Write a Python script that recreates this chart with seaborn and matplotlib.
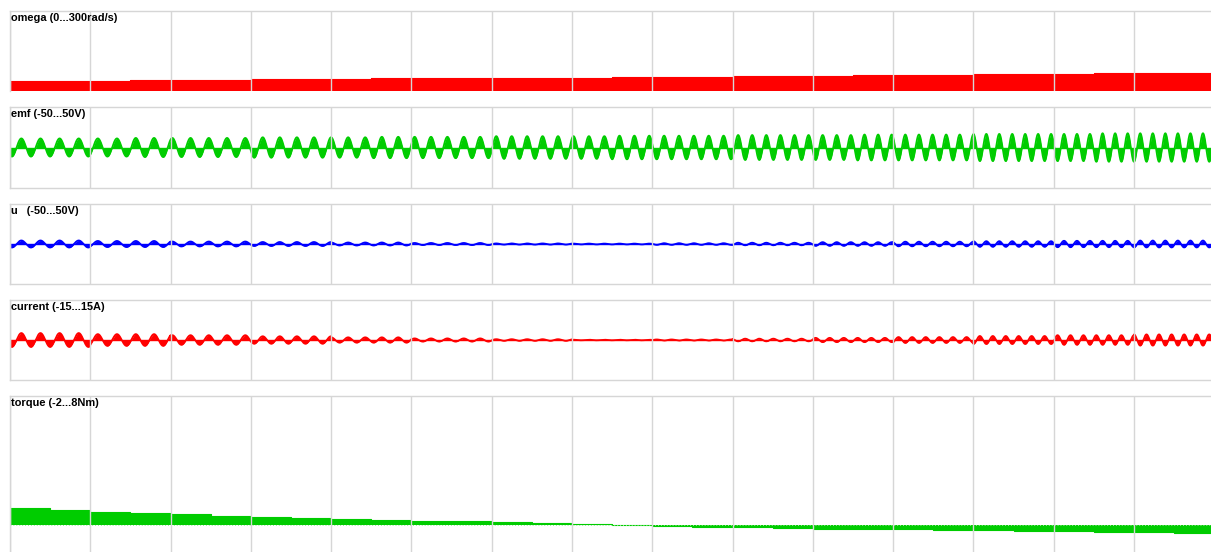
import numpy as np
import pandas as pd
import matplotlib
matplotlib.use("Agg")
import matplotlib.pyplot as plt
import seaborn as sns

# Speed staircase: one level per 1.5-division step (rad/s)
omega_levels = [37, 41, 44, 47, 50, 53, 56, 59, 63, 66]
# Back-emf electrical cycles per division and peak value (V) in each speed step
emf_cycles = [4.2, 4.4, 4.7, 4.9, 5.2, 5.4, 5.7, 5.9, 6.2, 6.4]
emf_peak = [11.2, 11.8, 12.6, 13.2, 14.0, 14.6, 15.4, 16.0, 16.8, 17.6]
# Peak terminal voltage (V) and phase current (A) per division
u_peak = [4.4, 3.8, 3.1, 2.5, 1.9, 1.3, 0.7, 0.5, 1.0, 1.6, 2.3, 2.9, 3.5, 4.0, 4.3]
current_peak = [2.6, 2.2, 1.8, 1.4, 1.0, 0.6, 0.3, 0.1, -0.2, -0.5,
                -0.8, -1.1, -1.5, -1.8, -2.1]
# Shaft torque (Nm) per half division
torque_levels = [1.02, 0.90, 0.80, 0.72, 0.64, 0.56, 0.48, 0.41, 0.36, 0.31,
                 0.26, 0.21, 0.16, 0.12, 0.06, 0.00, -0.05, -0.11, -0.15, -0.19,
                 -0.23, -0.26, -0.29, -0.31, -0.34, -0.37, -0.40, -0.44, -0.47, -0.50]

labels = ["omega (0...300rad/s)", "emf (-50...50V)", "u   (-50...50V)",
          "current (-15...15A)", "torque (-2...8Nm)"]
limits = [(0, 300), (-50, 50), (-50, 50), (-15, 15), (-2, 8)]

n_div = 15
step_len = 1.5

sns.set_theme(style="white")
plt.rcParams["font.family"] = ["Liberation Sans", "DejaVu Sans"]

# time base in divisions
t = np.linspace(0, n_div, n_div * 800 + 1)
dt = t[1] - t[0]
seg = np.minimum((t // step_len).astype(int), len(omega_levels) - 1)
cell = np.minimum(t.astype(int), n_div - 1)
phase = -2.2 + 2 * np.pi * np.cumsum(np.asarray(emf_cycles)[seg] * dt)
carrier = np.sin(phase)

waves = pd.DataFrame({
    "t": t,
    "emf": np.asarray(emf_peak)[seg] * carrier,
    "u": np.asarray(u_peak)[cell] * carrier,
    "current": np.asarray(current_peak)[cell] * carrier,
})

# step series
omega_x = np.append(np.arange(len(omega_levels)) * step_len, n_div)
omega_y = np.append(omega_levels, omega_levels[-1])
torque_x = np.append(np.arange(len(torque_levels)) * 0.5, n_div)
torque_y = np.append(torque_levels, torque_levels[-1])

W, H = 1211, 552
fig = plt.figure(figsize=(W / 100, H / 100), dpi=100)
fig.patch.set_facecolor("white")

left_px = 10
width_px = n_div * 80.29
panels_px = [(11, 91), (107, 188), (204, 284), (300, 380), (396, 557)]
axes = []
for top, bot in panels_px:
    ax = fig.add_axes([left_px / W, (H - bot) / H, width_px / W, (bot - top) / H])
    axes.append(ax)

grid_c = "#d6d6d6"
for ax, lab, lim in zip(axes, labels, limits):
    ax.set_facecolor("white")
    ax.set_xlim(0, n_div)
    ax.set_ylim(*lim)
    ax.set_xticks(np.arange(0, n_div + 1))
    ax.set_yticks([])
    ax.tick_params(length=0, labelbottom=False, labelleft=False)
    ax.set_axisbelow(False)
    ax.grid(axis="x", color=grid_c, linewidth=1.0, zorder=2.5)
    for s in ax.spines.values():
        s.set_color(grid_c)
        s.set_linewidth(1.0)
    ax.spines["right"].set_visible(False)
    ax.annotate(lab, xy=(0, 1), xycoords="axes fraction", xytext=(1, -2),
                textcoords="offset pixels", ha="left", va="top",
                fontsize=7.9, fontweight="bold", color="black", zorder=5)

red = "#ff0000"
green = "#00cc00"
blue = "#0000ff"

# omega
ax = axes[0]
ax.fill_between(omega_x, 0, omega_y, step="post", color=red, linewidth=0, zorder=1)
sns.lineplot(x=omega_x, y=omega_y, ax=ax, color=red, linewidth=0.8,
             drawstyle="steps-post", zorder=1)
ax.spines["bottom"].set_visible(False)

# chopped waveforms: lobes filled from the zero line
for ax, col, c in zip(axes[1:4], ["emf", "u", "current"], [green, blue, red]):
    ax.fill_between(waves["t"], 0, waves[col], color=c, linewidth=0, zorder=1)
    sns.lineplot(data=waves, x="t", y=col, ax=ax, color=c,
                 linewidth=1.3, estimator=None, zorder=1)
    ax.axhline(0, color=c, linewidth=1.0, zorder=1)

# torque
ax = axes[4]
ax.fill_between(torque_x, 0, torque_y, step="post", color=green, linewidth=0, zorder=1)
sns.lineplot(x=torque_x, y=torque_y, ax=ax, color=green, linewidth=0.8,
             drawstyle="steps-post", zorder=1)
ax.axhline(0, color="#9be89b", linewidth=0.7, linestyle=(0, (1, 2)), zorder=2)

for ax in axes:
    ax.set_xlabel("")
    ax.set_ylabel("")

fig.savefig("out.png", dpi=100, facecolor="white")
